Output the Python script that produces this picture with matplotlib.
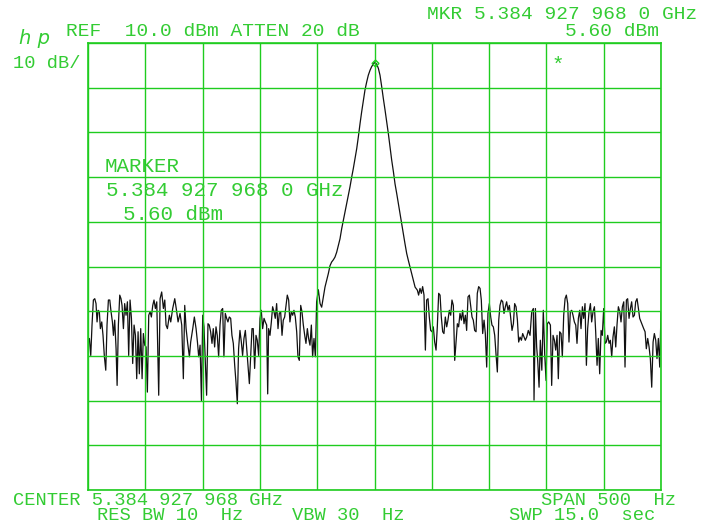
import matplotlib
matplotlib.use("Agg")
import matplotlib.pyplot as plt
import numpy as np

# ---------------- data (frequency offset from centre in Hz, level in dBm) ----------------
noise_a_hz = [
    -250.0, -248.8, -247.6, -246.5, -245.3, -244.1, -243.0, -242.1, -241.2, -240.1,
    -239.2, -238.0, -236.9, -235.7, -234.5, -233.4, -232.2, -231.0, -229.9, -228.7,
    -227.8, -226.7, -225.5, -224.6, -223.5, -222.3, -221.2, -220.3, -219.1, -218.0,
    -216.8, -215.6, -214.5, -213.3, -212.1, -211.0, -209.8, -208.6, -207.5, -206.3,
    -205.2, -204.0, -202.8, -201.7, -200.5, -199.3, -198.2, -197.0, -195.8, -194.7,
    -193.5, -192.4, -191.2, -190.0, -188.3, -187.1, -185.7, -184.2, -183.0, -181.9,
    -180.7, -179.0, -177.8, -176.1, -174.3, -172.6, -171.4, -169.7, -168.2, -166.8,
    -165.6, -164.4, -163.0, -161.5, -160.4, -158.6, -157.2, -155.7, -154.5, -153.4,
    -152.2, -151.0, -149.9]
noise_a_dbm = [
    -56.3, -56.1, -59.9, -53.1, -47.5, -47.2, -48.3, -52.4, -49.8, -50.1,
    -53.9, -52.4, -55.4, -60.2, -63.2, -53.1, -47.5, -47.5, -50.1, -52.4,
    -55.4, -52.0, -58.4, -66.6, -53.1, -46.4, -47.2, -48.7, -53.9, -48.3,
    -50.9, -47.9, -59.9, -47.5, -51.6, -61.7, -53.1, -55.4, -65.1, -54.6,
    -64.0, -53.9, -65.1, -55.0, -57.6, -58.0, -68.1, -50.9, -50.1, -51.3,
    -48.7, -47.5, -49.4, -47.9, -68.8, -47.2, -45.7, -49.4, -47.5, -53.1,
    -53.9, -50.9, -52.4, -49.4, -47.2, -50.1, -52.4, -50.5, -53.1, -65.1,
    -48.7, -53.9, -57.2, -60.2, -56.9, -53.9, -51.3, -53.9, -56.9, -60.2,
    -57.6, -70.0, -50.9]

noise_b_hz = [
    -148.8, -146.5, -145.3, -144.2, -143.0, -141.8, -140.7, -139.5, -138.3, -137.2,
    -136.0, -134.8, -133.7, -132.5, -131.4, -130.2, -129.0, -127.9, -126.7, -125.5,
    -124.4, -123.2, -122.0, -120.9, -119.7, -118.6, -117.4, -116.2, -115.1, -113.9,
    -112.7, -111.6, -110.4, -109.2, -108.1, -106.9, -105.8, -104.6, -103.4, -102.3,
    -101.1, -99.9, -98.8, -97.6, -96.4, -95.3, -94.1, -93.2, -92.4, -91.2,
    -90.0, -88.9, -87.7, -86.6, -85.4, -84.2, -83.1, -81.9, -80.7, -79.6,
    -78.4, -77.2, -76.1, -74.9, -73.8, -72.6, -71.4, -70.3, -69.1, -67.9,
    -66.8, -65.6, -64.4, -63.3, -62.1, -60.9, -59.8, -58.6, -57.5, -56.3,
    -55.1, -54.0, -52.8, -51.6, -50.5]
noise_b_dbm = [
    -53.5, -68.8, -52.8, -53.1, -54.6, -57.2, -53.9, -58.0, -53.5, -55.4,
    -60.2, -53.1, -49.8, -49.4, -60.2, -50.5, -51.6, -52.4, -51.3, -51.6,
    -55.4, -57.2, -62.1, -65.8, -70.7, -58.4, -54.3, -56.9, -59.9, -56.1,
    -54.3, -58.0, -62.1, -66.2, -60.2, -53.9, -53.9, -62.8, -55.4, -56.5,
    -59.9, -51.6, -49.8, -53.9, -51.6, -52.4, -53.1, -68.5, -53.9, -55.4,
    -52.4, -49.0, -50.1, -51.6, -48.3, -53.9, -50.5, -50.1, -55.4, -52.0,
    -51.3, -48.7, -46.4, -47.5, -52.4, -50.1, -50.9, -49.8, -51.3, -54.6,
    -60.2, -61.0, -48.7, -50.1, -53.1, -55.4, -57.2, -53.9, -56.1, -57.6,
    -53.1, -60.2, -56.1, -60.2, -47.9]

peak_hz = [
    -49.0, -47.5, -46.1, -44.6, -43.2, -41.7, -40.3, -38.8, -37.4, -35.9,
    -34.5, -33.0, -31.5, -30.1, -28.6, -27.2, -25.7, -24.3, -22.8, -21.4,
    -19.9, -18.5, -17.0, -15.5, -14.1, -12.6, -11.2, -9.7, -8.3, -6.8,
    -5.4, -3.9, -2.5, -1.0, 0.0, 1.9, 3.4, 4.8, 6.3, 7.7,
    9.2, 10.6, 12.1, 13.5, 15.0, 16.5, 17.9, 19.4, 20.8, 22.3,
    23.7, 25.2, 26.6, 28.1, 29.5, 31.0, 32.5, 33.9, 35.4]
peak_dbm = [
    -45.2, -48.3, -49.1, -46.8, -44.6, -43.1, -41.6, -39.8, -39.0, -38.5,
    -37.9, -36.8, -35.3, -33.8, -31.5, -29.7, -27.8, -25.9, -24.1, -22.2,
    -20.0, -18.1, -15.9, -13.6, -11.0, -8.0, -5.4, -2.8, -0.5, 1.3,
    2.8, 3.9, 4.7, 5.3, 5.6, 5.3, 4.3, 2.8, 0.2, -2.4,
    -5.0, -7.6, -10.3, -13.2, -16.2, -18.8, -21.5, -23.7, -25.9, -28.2,
    -30.4, -32.7, -34.9, -37.1, -38.6, -40.1, -41.6, -43.1, -44.6]

noise_c_hz = [
    37.4, 38.5, 39.7, 40.9, 42.0, 43.2, 44.4, 45.5, 46.7, 47.8,
    49.0, 50.2, 51.3, 52.5, 53.7, 54.8, 56.0, 57.2, 58.3, 59.5,
    60.6, 61.8, 63.0, 64.1, 65.3, 66.5, 67.6, 68.8, 70.0, 71.1,
    72.3, 73.4, 74.6, 75.8, 76.9, 78.1, 79.3, 80.4, 81.6, 82.8,
    83.9, 85.1, 86.2, 87.4, 88.6, 89.7, 90.9, 92.1, 93.2, 94.4,
    95.6, 96.7, 97.9, 99.0, 100.2, 101.4, 102.5, 103.7, 104.9, 106.0,
    107.2, 108.4, 109.5, 110.7, 111.9, 113.0, 114.2, 115.3, 116.5, 117.7,
    118.8, 120.0, 121.2, 122.3, 123.5, 124.7, 125.8, 127.0, 128.2, 129.3,
    130.5, 131.6, 132.8, 134.2, 135.7, 137.2, 138.6, 139.2, 140.4, 141.5,
    142.4, 143.6, 144.7, 146.0, 147.3, 148.5, 149.7, 150.8, 152.0]
noise_c_dbm = [
    -45.3, -46.4, -44.9, -46.0, -44.5, -46.4, -58.7, -47.5, -47.2, -51.3,
    -54.3, -54.6, -53.5, -56.9, -58.7, -53.5, -46.0, -46.4, -51.3, -54.6,
    -55.0, -51.3, -53.5, -52.0, -49.8, -50.9, -47.5, -48.7, -61.0, -57.2,
    -52.8, -53.5, -50.5, -52.0, -49.8, -52.8, -50.9, -54.3, -46.8, -46.4,
    -48.7, -51.3, -52.0, -54.3, -54.6, -46.0, -44.5, -44.9, -47.5, -55.0,
    -52.0, -55.0, -62.5, -50.5, -48.3, -51.3, -53.1, -53.5, -55.4, -59.5,
    -63.6, -52.0, -48.7, -47.5, -47.9, -50.5, -49.0, -47.9, -49.8, -48.7,
    -51.3, -54.3, -52.8, -48.3, -49.0, -52.0, -56.9, -55.8, -56.5, -55.0,
    -55.8, -56.5, -55.8, -54.3, -55.4, -50.1, -49.4, -69.9, -49.4, -58.0,
    -61.0, -67.0, -56.5, -63.2, -49.8, -59.5, -65.5, -52.8, -52.4]

noise_d_hz = [
    153.5, 154.6, 155.8, 157.0, 158.1, 159.3, 160.4, 161.6, 162.8, 163.9,
    165.1, 166.3, 167.4, 168.6, 169.7, 170.9, 172.1, 173.2, 174.4, 175.6,
    176.7, 177.9, 179.1, 180.2, 181.4, 182.5, 183.7, 184.9, 186.0, 187.2,
    188.4, 189.5, 190.7, 191.9, 193.0, 194.2, 195.3, 196.5, 197.7, 198.8,
    200.0, 201.2, 202.3, 203.5, 204.7, 205.8, 207.0, 208.1, 209.3, 210.5,
    211.6, 212.8, 214.0, 215.1, 216.3, 217.5, 218.6, 219.8, 220.9, 222.1,
    223.3, 224.4, 225.6, 226.8, 227.9, 229.1, 230.3, 231.4, 232.6, 233.7,
    234.9, 236.1, 237.2, 238.4, 239.6, 240.7, 241.9, 243.1, 244.2, 245.4,
    246.5, 247.7, 248.9, 250.0]
noise_d_dbm = [
    -53.1, -66.6, -55.4, -56.5, -58.7, -55.4, -65.1, -54.6, -55.0, -60.2,
    -50.9, -47.2, -46.4, -48.3, -56.9, -50.1, -49.8, -50.9, -52.4, -53.1,
    -57.2, -51.6, -49.8, -53.9, -49.0, -51.6, -48.3, -62.1, -53.9, -50.1,
    -48.3, -52.4, -50.1, -49.0, -54.6, -62.1, -56.1, -64.0, -54.3, -55.4,
    -49.4, -57.2, -56.9, -55.4, -57.2, -56.5, -60.2, -55.8, -53.5, -58.0,
    -53.1, -49.0, -50.1, -52.4, -49.0, -47.9, -62.5, -47.5, -47.2, -51.6,
    -49.4, -47.9, -51.3, -50.9, -47.9, -47.2, -49.4, -51.6, -52.4, -53.1,
    -53.9, -54.6, -58.4, -56.1, -58.0, -60.6, -67.0, -56.9, -55.0, -56.5,
    -60.6, -56.1, -62.5, -50.1]

ref_level_dbm = 10.0
db_per_div = 10
span_hz = 500
freq_per_div = 50
marker_hz = 0.0
marker_dbm = 5.60

# annotation texts
txt_ref = "REF  10.0 dBm ATTEN 20 dB"
txt_mkr = "MKR 5.384 927 968 0 GHz"
txt_mkr_lvl = "5.60 dBm"
txt_scale = "10 dB/"
txt_logo = "h p"
txt_marker_title = "MARKER"
txt_marker_freq = "5.384 927 968 0 GHz"
txt_marker_lvl = "5.60 dBm"
txt_center = "CENTER 5.384 927 968 GHz"
txt_span = "SPAN 500  Hz"
txt_rbw = "RES BW 10  Hz"
txt_vbw = "VBW 30  Hz"
txt_swp = "SWP 15.0  sec"

# ---------------- drawing ----------------
W, H = 716, 525
GRID = "#1fcc1f"
TXT = "#33cc33"
MONO = "Liberation Mono"

fig = plt.figure(figsize=(W / 100, H / 100), dpi=100)
fig.patch.set_facecolor("white")
ax = fig.add_axes([88 / W, 1 - 490 / H, (661 - 88) / W, (490 - 43) / H])

freq = np.concatenate([noise_a_hz, noise_b_hz, peak_hz, noise_c_hz, noise_d_hz])
level = np.concatenate([noise_a_dbm, noise_b_dbm, peak_dbm, noise_c_dbm, noise_d_dbm])

ax.plot(freq, level, color="#111111", lw=0.9, zorder=2)
ax.plot([marker_hz], [marker_dbm], marker="D", ms=3.5, mfc="none", mec=GRID,
        mew=1.0, zorder=4)

ax.set_xlim(-span_hz / 2, span_hz / 2)
ax.set_ylim(ref_level_dbm - 10 * db_per_div, ref_level_dbm)
ax.set_xticks(np.arange(-span_hz / 2, span_hz / 2 + 1, freq_per_div))
ax.set_yticks(np.arange(ref_level_dbm - 10 * db_per_div, ref_level_dbm + 1, db_per_div))
ax.tick_params(length=0, labelbottom=False, labelleft=False)
ax.set_axisbelow(False)
ax.grid(True, color=GRID, lw=1.0, zorder=3)
for s in ax.spines.values():
    s.set_color(GRID)
    s.set_linewidth(1.2)
    s.set_zorder(3)


def put(s, x, y, size, family=MONO, **kw):
    fig.text(x / W, 1 - y / H, s, ha="left", va="baseline", fontsize=size,
             family=family, color=TXT, **kw)


put(txt_ref, 66, 36, 14)
put(txt_mkr, 427, 19, 14)
put(txt_mkr_lvl, 565, 36, 14)
put(txt_scale, 13, 68, 13.5)
put(txt_logo, 19, 44, 14, family="DejaVu Sans", style="italic")
put("*", 552, 71, 15)

put(txt_marker_title, 105, 172.5, 15)
put(txt_marker_freq, 106, 196, 15)
put(txt_marker_lvl, 123, 219.5, 15)

put(txt_center, 13, 505, 13.5)
put(txt_span, 541, 505, 13.5)
put(txt_rbw, 97, 520.5, 13.5)
put(txt_vbw, 292, 520.5, 13.5)
put(txt_swp, 509, 520.5, 13.5)

fig.savefig("out.png", dpi=100)
